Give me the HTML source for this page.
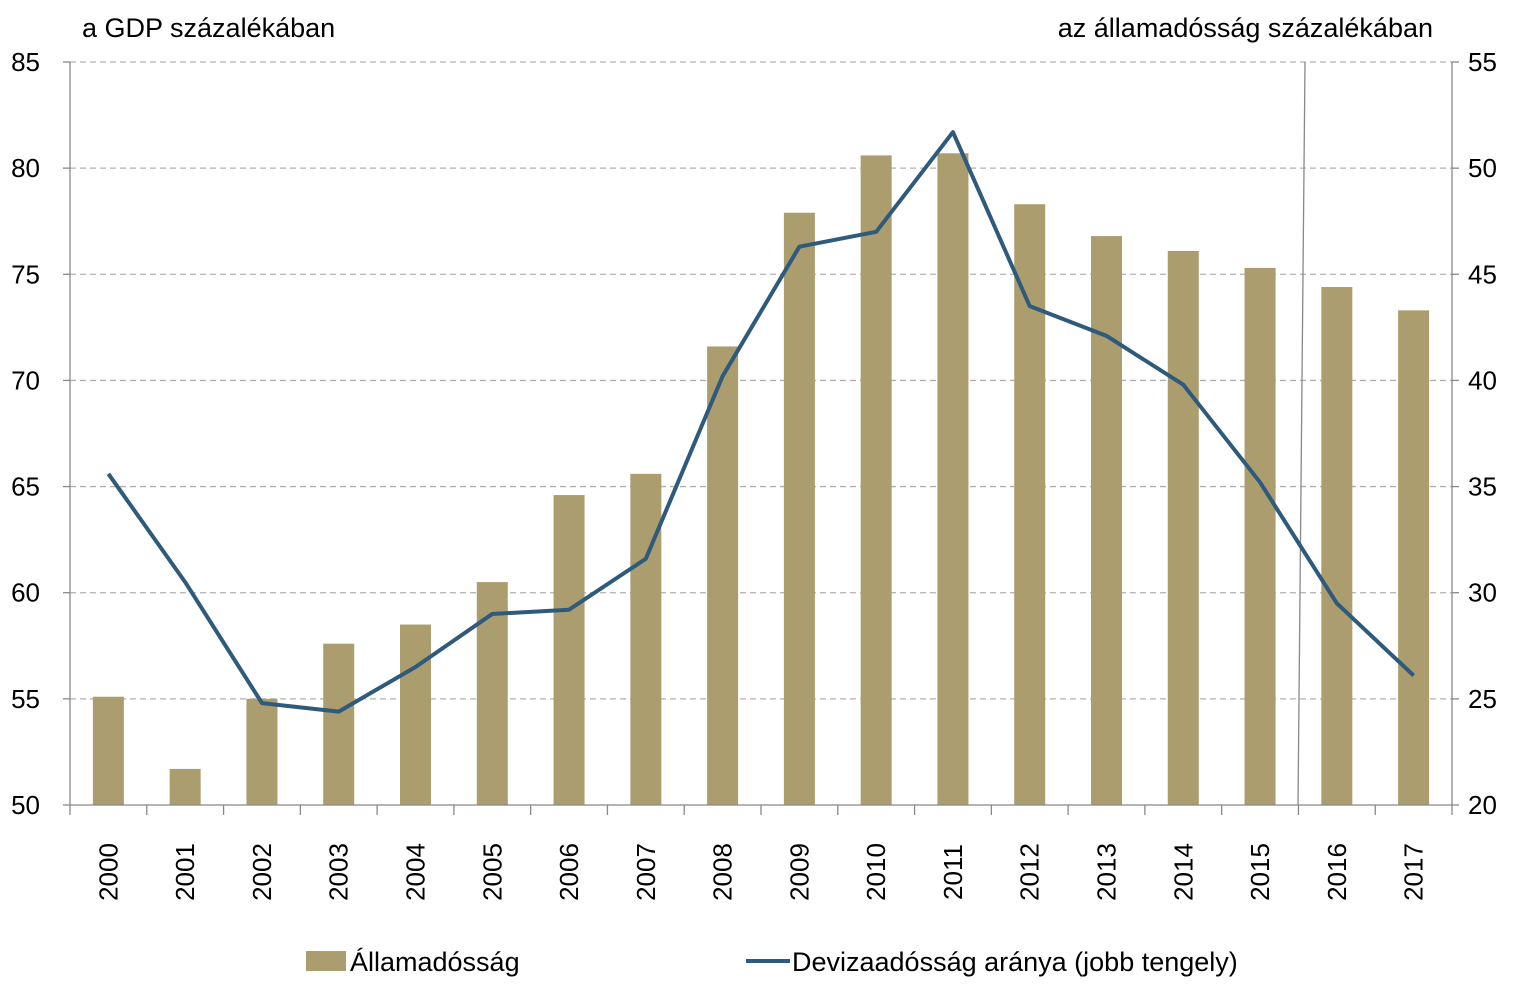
<!DOCTYPE html>
<html><head><meta charset="utf-8"><style>
body{margin:0;background:#fff;}
svg text{font-family:"Liberation Sans",sans-serif;fill:#000;}
</style></head><body>
<svg id="chart" width="1526" height="998" xmlns="http://www.w3.org/2000/svg">
<text x="82" y="37" font-size="27">a GDP százalékában</text>
<text x="1433" y="37" font-size="27" text-anchor="end">az államadósság  százalékában</text>
<g id="grid"></g><g id="bars"></g><g id="axes"></g><g id="line"></g>
<g>
<rect x="306" y="951" width="40" height="20" fill="#ab9d6d"/>
<text x="350" y="971" font-size="27">Államadósság</text>
<line x1="746" y1="961" x2="790" y2="961" stroke="#2e5a7c" stroke-width="4"/>
<text x="792" y="971" font-size="27">Devizaadósság aránya (jobb tengely)</text>
</g>
</svg>
<script>
const categories=["2000","2001","2002","2003","2004","2005","2006","2007","2008","2009","2010","2011","2012","2013","2014","2015","2016","2017"];
const debtValues=[55.1,51.7,55.0,57.6,58.5,60.5,64.6,65.6,71.6,77.9,80.6,80.7,78.3,76.8,76.1,75.3,74.4,73.3];
const fxShareValues=[35.6,30.5,24.8,24.4,26.5,29.0,29.2,31.6,40.2,46.3,47.0,51.7,43.5,42.1,39.8,35.2,29.5,26.1];
const leftTicks=[50,55,60,65,70,75,80,85];
const rightTicks=[20,25,30,35,40,45,50,55];
const NS="http://www.w3.org/2000/svg";
const X0=70,X1=1452,Y0=805,Y1=62;
const step=(X1-X0)/categories.length;
const xC=i=>X0+step*(i+0.5);
const yL=v=>Y0-(v-50)/35*(Y0-Y1);
const yR=v=>Y0-(v-20)/35*(Y0-Y1);
function mk(t,a,p){const e=document.createElementNS(NS,t);for(const k in a)e.setAttribute(k,a[k]);p.appendChild(e);return e;}
const grid=document.getElementById('grid'),bars=document.getElementById('bars'),axes=document.getElementById('axes'),line=document.getElementById('line');
leftTicks.forEach((v,i)=>{const y=yL(v);
 if(i>0){const g=mk('line',{x1:X0,x2:X1,y1:y,y2:y,stroke:'#b0b0b0','stroke-width':1.3,'stroke-dasharray':'6,4'},grid);
 
 }
 const t=mk('text',{x:40,y:y+9,'font-size':26,'text-anchor':'end'},axes);t.textContent=v;
 
 
 mk('line',{x1:X0-7,x2:X0,y1:y,y2:y,stroke:'#888','stroke-width':1.3},axes);
});
rightTicks.forEach(v=>{const y=yR(v);
 const t=mk('text',{x:1468,y:y+9,'font-size':26},axes);t.textContent=v;
 
 
 mk('line',{x1:X1,x2:X1+7,y1:y,y2:y,stroke:'#888','stroke-width':1.3},axes);
});
debtValues.forEach((v,i)=>{const r=mk('rect',{x:xC(i)-15.5,y:yL(v),width:31,height:Y0-yL(v),fill:'#ab9d6d'},bars);
 
 });
mk('line',{x1:X0,x2:X0,y1:Y1,y2:Y0,stroke:'#888','stroke-width':1.3},axes);
mk('line',{x1:X1,x2:X1,y1:Y1,y2:Y0,stroke:'#888','stroke-width':1.3},axes);
mk('line',{x1:X0,x2:X1,y1:Y0,y2:Y0,stroke:'#888','stroke-width':1.3},axes);
mk('line',{x1:1305,x2:1298,y1:Y1,y2:Y0,stroke:'#888','stroke-width':1.3},axes);
for(let i=0;i<=categories.length;i++){const x=X0+step*i;mk('line',{x1:x,x2:x,y1:Y0,y2:Y0+10,stroke:'#888','stroke-width':1.3},axes);}
categories.forEach((c,i)=>{const x=xC(i)+9,y=872;
 const t=mk('text',{x:x,y:y,'font-size':26,'text-anchor':'middle',transform:`rotate(-90 ${x} ${y})`},axes);t.textContent=c;
 
 });
const pl=mk('polyline',{points:fxShareValues.map((v,i)=>xC(i)+','+yR(v)).join(' '),fill:'none',stroke:'#2e5a7c','stroke-width':4,'stroke-linejoin':'round'},line);


</script>
</body></html>
